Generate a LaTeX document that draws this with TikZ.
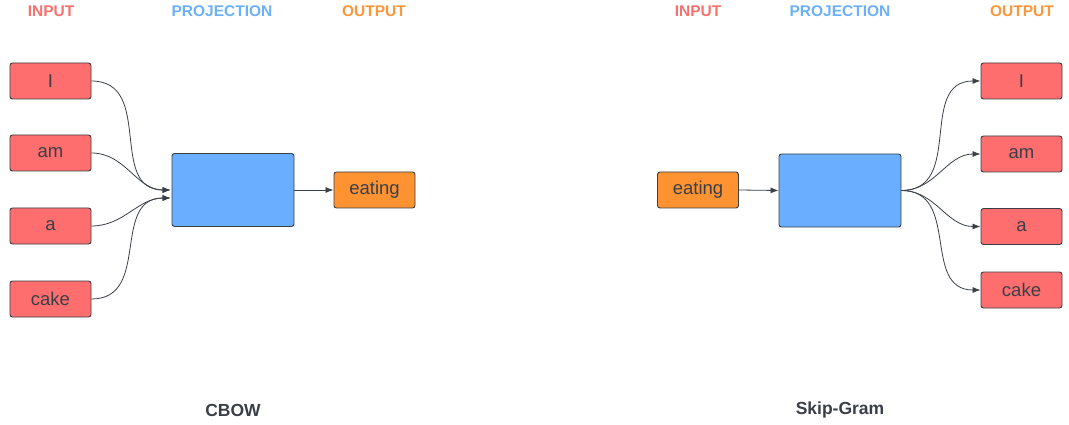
\documentclass[tikz,border=0pt]{standalone}
\usepackage{fontspec}
\setmainfont{Liberation Sans}
\usetikzlibrary{arrows.meta}
\definecolor{wordred}{HTML}{FF6E6E}
\definecolor{projblue}{HTML}{6AAFFF}
\definecolor{outorange}{HTML}{FF9331}
\definecolor{headred}{HTML}{F8716F}
\definecolor{headblue}{HTML}{6CB0FA}
\definecolor{headorange}{HTML}{FF973A}
\definecolor{ink}{HTML}{3A3F47}
\tikzset{
  box/.style={draw=ink, line width=0.9pt, rounded corners=2.5pt, inner sep=0pt,
    text=ink, font=\fontsize{18.5}{20}\selectfont},
  word/.style={box, fill=wordred, minimum width=81pt, minimum height=36pt},
  target/.style={box, fill=outorange, minimum width=81pt, minimum height=36pt},
  proj/.style={box, fill=projblue, minimum width=122pt, minimum height=73pt},
  head/.style={font=\bfseries\fontsize{15.5}{17}\selectfont},
  title/.style={font=\bfseries\fontsize{17.5}{19}\selectfont, text=ink},
  link/.style={draw=ink, line width=0.8pt, -{Latex[length=8pt,width=6pt]}},
}
\begin{document}
\begin{tikzpicture}[x=1pt,y=-1pt]
\useasboundingbox (0,0) rectangle (1069,425);

% CBOW
\node[head, text=headred]    (hInL)  at (51,11)  {INPUT};
\node[head, text=headblue]   (hPrL)  at (222,11) {PROJECTION};
\node[head, text=headorange] (hOutL) at (374,11) {OUTPUT};

\node[word] (lI)    at (50.5,81)  {I};
\node[word] (lAm)   at (50.5,153) {am};
\node[word] (lA)    at (50.5,226) {a};
\node[word] (lCake) at (50.5,299) {cake};
\node[proj] (lProj) at (233,190) {};
\node[target] (lEat) at (374.5,190) {eating};

\coordinate (lInTop) at ([xshift=-1pt]lProj.west);
\coordinate (lInBot) at ([xshift=-1pt,yshift=-8pt]lProj.west);
\draw[link] (lI.east)    to[out=0,in=180,looseness=1.2] (lInTop);
\draw[link] (lAm.east)   to[out=0,in=180] (lInTop);
\draw[link] (lA.east)    to[out=0,in=180] (lInBot);
\draw[link] (lCake.east) to[out=0,in=180,looseness=1.2] (lInBot);
\draw[link] (lProj.east) -- (lEat.west);

\node[title] (cbow) at (233,410) {CBOW};

% Skip-Gram
\node[head, text=headred]    (hInR)  at (698,11)  {INPUT};
\node[head, text=headblue]   (hPrR)  at (840,11)  {PROJECTION};
\node[head, text=headorange] (hOutR) at (1022,11) {OUTPUT};

\node[target] (rEat) at (698,190) {eating};
\node[proj] (rProj) at (840,190.5) {};
\node[word] (rI)    at (1021.5,81)  {I};
\node[word] (rAm)   at (1021.5,154) {am};
\node[word] (rA)    at (1021.5,226.5) {a};
\node[word] (rCake) at (1021.5,290) {cake};

\draw[link] (rEat.east) -- (rProj.west);
\draw[link] (rProj.east) to[out=0,in=180,looseness=1.2] (rI.west);
\draw[link] (rProj.east) to[out=0,in=180] (rAm.west);
\draw[link] (rProj.east) to[out=0,in=180] (rA.west);
\draw[link] (rProj.east) to[out=0,in=180,looseness=1.2] (rCake.west);

\node[title] (skip) at (840,410) {Skip-Gram};
\end{tikzpicture}
\end{document}
